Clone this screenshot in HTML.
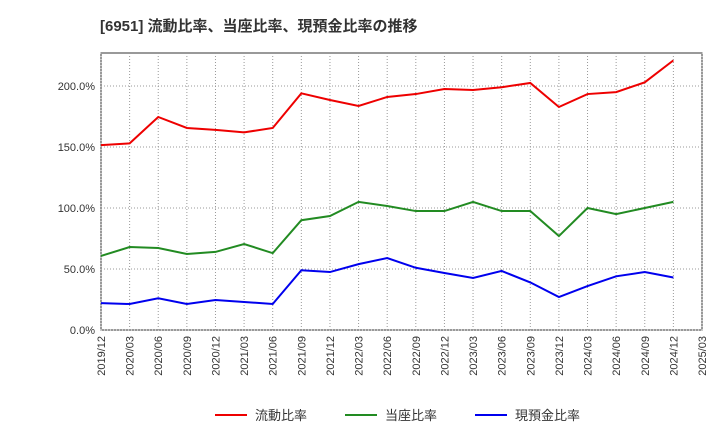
<!DOCTYPE html>
<html><head><meta charset="utf-8"><style>
body{margin:0;background:#fff;font-family:"Liberation Sans","Noto Sans CJK JP",sans-serif}
</style></head><body>
<svg id="c" width="720" height="440" xmlns="http://www.w3.org/2000/svg">
<text x="100" y="31" font-size="15" font-weight="bold" fill="#333" font-family="Liberation Sans, Noto Sans CJK JP, sans-serif">[6951]  流動比率、当座比率、現預金比率の推移</text>
</svg>
<script>
const xLabels=["2019/12","2020/03","2020/06","2020/09","2020/12","2021/03","2021/06","2021/09","2021/12","2022/03","2022/06","2022/09","2022/12","2023/03","2023/06","2023/09","2023/12","2024/03","2024/06","2024/09","2024/12","2025/03"];
const yTicks=[0,50,100,150,200];
const current=[151.5,153,174.6,165.6,164,162,165.6,194,188.5,183.6,191,193.4,197.5,196.7,199,202.5,182.8,193.4,195,203,221];
const quick=[60.7,68,67.2,62.3,64,70.5,63,90,93.4,105,101.6,97.5,97.5,105,97.5,97.5,77,100,95,100,105];
const cash=[22,21.3,26,21.3,24.6,23,21.3,49,47.5,54,59,51,46.7,42.6,48.4,39,27,36,44,47.5,43];
const names=["流動比率","当座比率","現預金比率"];
const colors=["#e00","#228b22","#00e"];
const ns="http://www.w3.org/2000/svg",svg=document.getElementById("c");
const L=101,R=702,T=53,B=330;
const xs=i=>L+i*(R-L)/(xLabels.length-1);
const ys=v=>B-v*1.22;
function mk(t,a){const e=document.createElementNS(ns,t);for(const k in a)e.setAttribute(k,a[k]);svg.appendChild(e);return e;}
const bg=mk("rect",{x:L,y:T,width:R-L,height:B-T,fill:"#fff",stroke:"#333"});


xLabels.forEach((l,i)=>{
 const g=mk("line",{x1:xs(i),x2:xs(i),y1:T,y2:B,stroke:"#999","stroke-dasharray":"1,2"});
 
 
 const t=mk("text",{x:0,y:0,"font-size":11,fill:"#333","text-anchor":"end",transform:`translate(${xs(i)+4},${B+6}) rotate(-90)`});
 t.textContent=l;
 
 
});
yTicks.forEach(v=>{
 const g=mk("line",{x1:L,x2:R,y1:ys(v),y2:ys(v),stroke:"#999","stroke-dasharray":"1,2"});
 
 
 const t=mk("text",{x:L-6,y:ys(v)+4,"font-size":11,fill:"#333","text-anchor":"end"});
 t.textContent=v.toFixed(1)+"%";
 
 
});
[current,quick,cash].forEach((s,k)=>{
 const p=mk("polyline",{points:s.map((v,i)=>xs(i)+","+ys(v)).join(" "),fill:"none",stroke:colors[k],"stroke-width":2});
 
 
 const lx=[215,345,475][k];
 const ll=mk("line",{x1:lx,x2:lx+32,y1:415,y2:415,stroke:colors[k],"stroke-width":2});
 
 
 const lt=mk("text",{x:lx+40,y:420,"font-size":13,fill:"#333"});
 lt.textContent=names[k];
 
 
});
</script>
</body></html>
